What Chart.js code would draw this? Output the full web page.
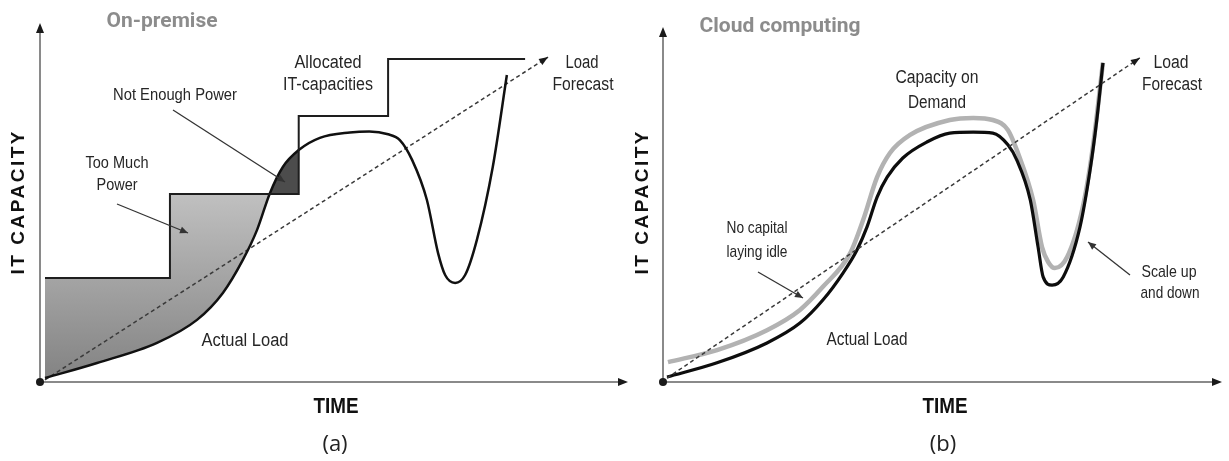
<!DOCTYPE html>
<html>
<head>
<meta charset="utf-8">
<script src="https://cdn.jsdelivr.net/npm/chart.js@4/dist/chart.umd.min.js"></script>
<style>
  html, body { margin: 0; padding: 0; background: #fff; }
  #wrap { position: relative; width: 1229px; height: 461px; overflow: hidden; }
  #left { position: absolute; left: 0; top: 0; }
  #right { position: absolute; left: 632px; top: 0; }
</style>
</head>
<body>
<div id="wrap">
  <canvas id="left" width="632" height="461"></canvas>
  <canvas id="right" width="597" height="461"></canvas>
</div>
<script>
// (a) On-premise: actual load, allocated step capacity, forecast
const premLoadX = [0.85, 9.7, 19.9, 26.7, 31.1, 34.5, 36.9, 39.1, 41.3, 44.0, 47.6, 52.7, 56.0, 59.2, 61.2, 63.3, 65.8, 67.7, 68.9, 70.6, 72.3, 74.3, 77.0, 79.4];
const premLoadY = [1.1, 5.3, 10.9, 17.3, 24.8, 34.0, 42.3, 52.6, 59.9, 64.6, 68.0, 69.5, 69.8, 69.0, 67.4, 61.8, 50.7, 35.9, 29.8, 27.6, 29.8, 39.6, 59.9, 85.5];
const allocX = [0.85, 22.1, 44.0, 59.2, 82.5];
const allocY = [29.0, 52.4, 74.1, 90.0, 90.0];
const forecastAX = [0.85, 86.4];
const forecastAY = [0.6, 90.5];

// (b) Cloud computing: actual load, capacity on demand, forecast
const cloudLoadX = [0.72, 9.66, 18.6, 24.5, 28.6, 32.2, 34.7, 36.5, 38.3, 40.1, 42.9, 47.2, 51.3, 55.5, 59.0, 61.7, 63.3, 65.7, 67.1, 68.0, 69.6, 71.6, 74.6, 76.4, 77.6, 78.7];
const cloudLoadY = [1.4, 5.4, 11.0, 16.6, 23.1, 30.7, 37.2, 43.7, 52.1, 57.7, 63.1, 67.6, 70.1, 70.4, 70.1, 66.8, 62.5, 51.3, 38.0, 29.6, 27.3, 29.6, 43.7, 59.7, 73.8, 89.9];
const cloudCapX = [0.89, 9.66, 18.6, 24.5, 28.6, 33.5, 35.8, 38.3, 40.6, 44.2, 51.3, 55.5, 59.0, 61.7, 63.5, 66.2, 67.8, 68.9, 70.1, 72.3, 75.1, 76.9, 78.7];
const cloudCapY = [5.6, 9.0, 14.6, 20.3, 26.8, 36.3, 45.6, 57.7, 64.5, 69.6, 73.8, 74.4, 73.8, 71.0, 64.5, 51.3, 38.0, 33.8, 32.1, 35.2, 49.3, 66.2, 89.9];
const forecastBX = [0.72, 85.3];
const forecastBY = [1.1, 91.3];

function pts(xs, ys) {
  return xs.map((x, i) => ({ x: x, y: ys[i] }));
}

// the part of the step line that bounds the shaded area
const overX = allocX.slice(0, 3);
const overY = allocY.slice(0, 3);

const NARROW = '"Liberation Sans", Arial, sans-serif';

function headAt(ctx, fx, fy, tx, ty, len, half) {
  const a = Math.atan2(ty - fy, tx - fx);
  const c = Math.cos(a), s = Math.sin(a);
  ctx.beginPath();
  ctx.moveTo(tx, ty);
  ctx.lineTo(tx - len * c + half * s, ty - len * s - half * c);
  ctx.lineTo(tx - len * c - half * s, ty - len * s + half * c);
  ctx.closePath();
  ctx.fill();
}

function drawLabel(ctx, l) {
  ctx.save();
  ctx.font = l.f;
  ctx.fillStyle = l.c || '#262626';
  ctx.textAlign = 'center';
  ctx.textBaseline = 'middle';
  ctx.translate(l.x, l.y);
  if (l.rot) ctx.rotate(l.rot);
  const nat = ctx.measureText(l.t).width;
  if (l.spread && nat < l.w) {
    const sp = (l.w - nat) / (l.t.length - 1);
    ctx.letterSpacing = sp + 'px';
    ctx.textAlign = 'left';
    ctx.fillText(l.t, -l.w / 2, 0);
  } else {
    ctx.fillText(l.t, 0, 0, l.w);
  }
  ctx.restore();
}

function decor(cfg) {
  return {
    id: 'decor',
    beforeDatasetsDraw(chart) {
      const ctx = chart.ctx;
      const sx = chart.scales.x, sy = chart.scales.y;
      const x0 = sx.getPixelForValue(0), x1 = sx.getPixelForValue(100);
      const y0 = sy.getPixelForValue(0), y1 = sy.getPixelForValue(100);
      ctx.save();
      ctx.strokeStyle = '#8a8a8a';
      ctx.lineWidth = 2;
      ctx.beginPath();
      ctx.moveTo(x0, y0); ctx.lineTo(x1 - 5, y0);
      ctx.moveTo(x0, y0); ctx.lineTo(x0, y1 + 5);
      ctx.stroke();
      ctx.restore();
    },
    afterDraw(chart) {
      const ctx = chart.ctx;
      const sx = chart.scales.x, sy = chart.scales.y;
      const x0 = sx.getPixelForValue(0), x1 = sx.getPixelForValue(100);
      const y0 = sy.getPixelForValue(0), y1 = sy.getPixelForValue(100);
      ctx.save();
      ctx.fillStyle = '#1a1a1a';
      headAt(ctx, x0, y0, x1, y0, 10, 4);
      headAt(ctx, x0, y0, x0, y1, 10, 4);
      ctx.beginPath();
      ctx.arc(x0, y0, 4, 0, Math.PI * 2);
      ctx.fill();

      const el = chart.getDatasetMeta(cfg.forecast).data;
      const a = el[el.length - 2], b = el[el.length - 1];
      headAt(ctx, a.x, a.y, b.x, b.y, 9, 3.5);

      ctx.strokeStyle = '#333';
      ctx.fillStyle = '#333';
      ctx.lineWidth = 1.3;
      cfg.pointers.forEach(p => {
        ctx.beginPath();
        ctx.moveTo(p[0], p[1]);
        ctx.lineTo(p[2], p[3]);
        ctx.stroke();
        headAt(ctx, p[0], p[1], p[2], p[3], 8, 3.5);
      });
      ctx.restore();
      cfg.labels.forEach(l => drawLabel(ctx, l));
    }
  };
}

function baseOptions(pad) {
  return {
    responsive: false,
    animation: false,
    events: [],
    layout: { padding: pad },
    elements: { point: { radius: 0 } },
    plugins: { legend: { display: false }, tooltip: { enabled: false } },
    scales: {
      x: { type: 'linear', min: 0, max: 100, display: false },
      y: { type: 'linear', min: 0, max: 100, display: false }
    }
  };
}

function shade(c) {
  const chart = c.chart;
  const area = chart.chartArea;
  if (!area) return '#aaa';
  const sy = chart.scales.y;
  const g = chart.ctx.createLinearGradient(0, sy.getPixelForValue(allocY[1]), 0, sy.getPixelForValue(0));
  g.addColorStop(0, '#c0c0c0');
  g.addColorStop(1, '#828282');
  return g;
}

// ---------- (a) ----------
new Chart(document.getElementById('left'), {
  type: 'line',
  data: {
    datasets: [
      {
        data: pts(overX, overY),
        stepped: 'before',
        borderColor: 'transparent',
        borderWidth: 0,
        backgroundColor: shade,
        fill: { target: 1, below: '#4c4c4c' },
        order: 4
      },
      {
        data: pts(premLoadX, premLoadY),
        borderColor: '#111',
        borderWidth: 2.5,
        cubicInterpolationMode: 'monotone',
        fill: false,
        order: 2
      },
      {
        data: pts(allocX, allocY),
        stepped: 'before',
        borderColor: '#1e1e1e',
        borderWidth: 2,
        fill: false,
        order: 1
      },
      {
        data: pts(forecastAX, forecastAY),
        borderColor: '#3a3a3a',
        borderWidth: 1.5,
        borderDash: [4, 3],
        fill: false,
        order: 3
      }
    ]
  },
  options: baseOptions({ left: 40, right: 4, top: 23, bottom: 79 }),
  plugins: [decor({
    forecast: 3,
    pointers: [[173, 110, 285, 182], [117, 204, 188, 233]],
    labels: [
      { t: 'On-premise', x: 162, y: 22, w: 115, f: 'bold 21px Roboto, Arial, sans-serif', c: '#8c8c8c' },
      { t: 'IT CAPACITY', x: 19, y: 203, w: 143, f: 'bold 19px ' + NARROW, c: '#111', rot: -Math.PI / 2, spread: true },
      { t: 'TIME', x: 336, y: 407, w: 45, f: 'bold 22px ' + NARROW, c: '#111' },
      { t: '(a)', x: 335, y: 445, w: 30, f: '22px "Open Sans", sans-serif', c: '#222' },
      { t: 'Not Enough Power', x: 175, y: 95, w: 124, f: '17px ' + NARROW },
      { t: 'Too Much', x: 117, y: 163, w: 63, f: '17px ' + NARROW },
      { t: 'Power', x: 117, y: 185, w: 41, f: '17px ' + NARROW },
      { t: 'Allocated', x: 328, y: 63, w: 67, f: '18px ' + NARROW },
      { t: 'IT-capacities', x: 328, y: 85, w: 90, f: '18px ' + NARROW },
      { t: 'Load', x: 582, y: 63, w: 33, f: '18px ' + NARROW },
      { t: 'Forecast', x: 583, y: 85, w: 61, f: '18px ' + NARROW },
      { t: 'Actual Load', x: 245, y: 341, w: 87, f: '18px ' + NARROW }
    ]
  })]
});

// ---------- (b) ----------
new Chart(document.getElementById('right'), {
  type: 'line',
  data: {
    datasets: [
      {
        data: pts(cloudCapX, cloudCapY),
        borderColor: '#b2b2b2',
        borderWidth: 4.5,
        cubicInterpolationMode: 'monotone',
        fill: false,
        order: 3
      },
      {
        data: pts(cloudLoadX, cloudLoadY),
        borderColor: '#0d0d0d',
        borderWidth: 3.2,
        cubicInterpolationMode: 'monotone',
        fill: false,
        order: 2
      },
      {
        data: pts(forecastBX, forecastBY),
        borderColor: '#3a3a3a',
        borderWidth: 1.5,
        borderDash: [4, 3],
        fill: false,
        order: 1
      }
    ]
  },
  options: baseOptions({ left: 31, right: 7, top: 27, bottom: 79 }),
  plugins: [decor({
    forecast: 2,
    pointers: [[126, 272, 171, 298], [498, 275, 456, 242]],
    labels: [
      { t: 'Cloud computing', x: 148, y: 27, w: 164, f: 'bold 21px Roboto, Arial, sans-serif', c: '#8c8c8c' },
      { t: 'IT CAPACITY', x: 11, y: 203, w: 143, f: 'bold 19px ' + NARROW, c: '#111', rot: -Math.PI / 2, spread: true },
      { t: 'TIME', x: 313, y: 407, w: 45, f: 'bold 22px ' + NARROW, c: '#111' },
      { t: '(b)', x: 311, y: 445, w: 30, f: '22px "Open Sans", sans-serif', c: '#222' },
      { t: 'Capacity on', x: 305, y: 78, w: 83, f: '18px ' + NARROW },
      { t: 'Demand', x: 305, y: 103, w: 58, f: '18px ' + NARROW },
      { t: 'Load', x: 539, y: 63, w: 35, f: '18px ' + NARROW },
      { t: 'Forecast', x: 540, y: 85, w: 60, f: '18px ' + NARROW },
      { t: 'No capital', x: 125, y: 228, w: 61, f: '17px ' + NARROW },
      { t: 'laying idle', x: 125, y: 252, w: 61, f: '17px ' + NARROW },
      { t: 'Actual Load', x: 235, y: 340, w: 81, f: '18px ' + NARROW },
      { t: 'Scale up', x: 537, y: 272, w: 55, f: '17px ' + NARROW },
      { t: 'and down', x: 538, y: 293, w: 59, f: '17px ' + NARROW }
    ]
  })]
});
</script>
</body>
</html>
